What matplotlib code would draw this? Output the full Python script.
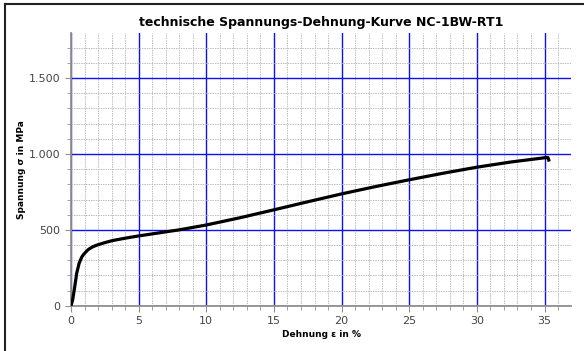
import numpy as np
import matplotlib
matplotlib.use('Agg')
import matplotlib.pyplot as plt
from matplotlib.ticker import MultipleLocator, FuncFormatter
from matplotlib.lines import Line2D

# curve (strain in %, stress in MPa)
dehnung = [0.0, 0.12, 0.25, 0.42, 0.6, 0.8, 0.95, 1.1, 1.3, 1.6, 1.9, 2.5, 3.1, 4.0, 5.0,
           6.5, 8.0, 10.0, 12.5, 15.0, 17.5, 20.0, 22.5, 25.0, 27.5, 30.0, 32.5,
           35.0, 35.25, 35.3, 35.35]
spannung = [0, 38, 110, 214, 280, 322, 340, 355, 372, 388, 399, 416, 430, 445, 460,
            480, 500, 532, 580, 632, 685, 737, 785, 830, 873, 913, 947,
            975, 977, 965, 950]

title = 'technische Spannungs-Dehnung-Kurve NC-1BW-RT1'
xlabel = 'Dehnung \u03b5 in %'
ylabel = 'Spannung \u03c3 in MPa'

fig = plt.figure(figsize=(5.84, 3.51), dpi=100)
ax = fig.add_axes([0.1216, 0.129, 0.8564, 0.776])

ax.plot(dehnung, spannung, color='black', lw=2.3, zorder=5, solid_capstyle='butt')

ax.set_xlim(0, 36.97)
ax.set_ylim(0, 1795)
ax.xaxis.set_major_locator(MultipleLocator(5))
ax.xaxis.set_minor_locator(MultipleLocator(1))
ax.yaxis.set_major_locator(MultipleLocator(500))
ax.yaxis.set_minor_locator(MultipleLocator(100))
ax.yaxis.set_major_formatter(FuncFormatter(lambda v, p: f'{v:,.0f}'.replace(',', '.')))

ax.grid(which='minor', color='#bdbdbd', ls=(0, (1.5, 1)), lw=0.7)
ax.grid(which='major', color='#1010f0', ls='-', lw=1.0)
ax.set_axisbelow(True)

for s in ['top', 'right']:
    ax.spines[s].set_visible(False)
for s in ['left', 'bottom']:
    ax.spines[s].set_color('#909090')
    ax.spines[s].set_linewidth(1.3)
    ax.spines[s].set_zorder(3)
ax.tick_params(which='both', colors='#909090', labelcolor='#444444', labelsize=8)
ax.tick_params(which='major', length=4)
ax.tick_params(which='minor', length=3)

ax.set_title(title, fontsize=9, fontweight='bold', pad=5)
ax.set_xlabel(xlabel, fontsize=6.5, fontweight='bold', labelpad=3)
ax.set_ylabel(ylabel, fontsize=6.5, fontweight='bold', labelpad=2)

# frame around the figure (top and left edge visible)
fig.add_artist(Line2D([5 / 584, 5 / 584], [0, 1 - 4 / 351], transform=fig.transFigure,
                      color='#222222', lw=1.5))
fig.add_artist(Line2D([5 / 584, 1], [1 - 4 / 351, 1 - 4 / 351], transform=fig.transFigure,
                      color='#222222', lw=1.5))

fig.savefig('out.png', dpi=100)
